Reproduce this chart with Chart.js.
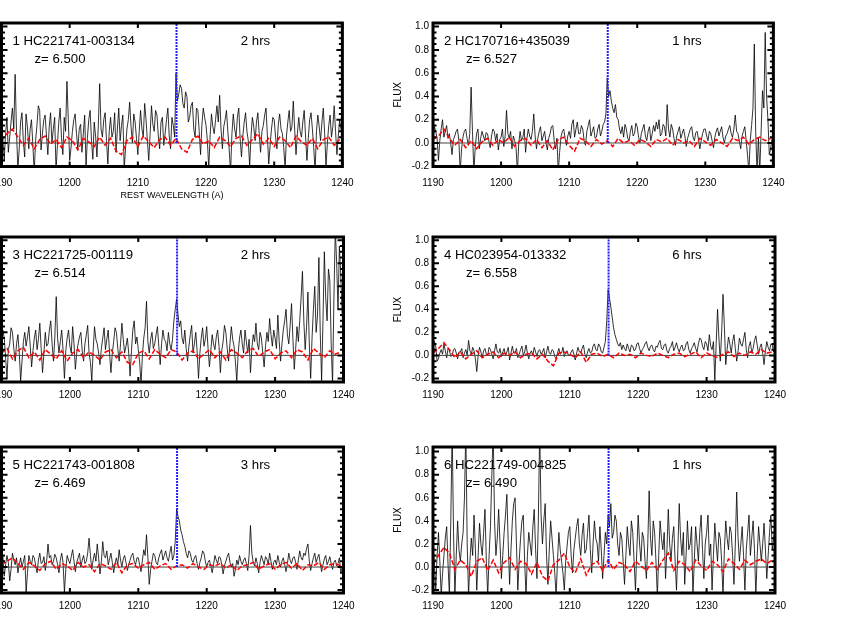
<!DOCTYPE html>
<html>
<head>
<meta charset="utf-8">
<script src="https://cdn.jsdelivr.net/npm/chart.js@4.4.1/dist/chart.umd.min.js"></script>
<style>
html, body { margin:0; padding:0; background:#fff; width:864px; height:637px; overflow:hidden; }
canvas { position:absolute; }
</style>
</head>
<body>
<script>
// wavelength grid (rest frame, Angstrom)
const waveStart = 1190
const fluxStep = 0.2
const errStep = 0.8
const lyaRest = 1215.67
const xTicks = [1190, 1200, 1210, 1220, 1230, 1240]

const names = ["1 HC221741-003134", "2 HC170716+435039", "3 HC221725-001119",
               "4 HC023954-013332", "5 HC221743-001808", "6 HC221749-004825"]
const redshifts = ["6.500", "6.527", "6.514", "6.558", "6.469", "6.490"]
const hours = [2, 1, 2, 6, 3, 1]

const flux1 = [0.10,0.04,-0.15,0.08,0.22,-0.08,0.05,0.18,0.30,0.12,0.59,0.10,-0.22,-0.05,0.18,0.26,0.02,-0.12,0.25,0.14,
  -0.05,0.12,0.20,-0.02,-0.25,0.02,0.15,0.32,0.28,-0.06,0.08,0.20,0.24,0.06,-0.10,0.14,0.26,0.00,0.12,0.22,
  -0.24,-0.02,0.18,0.30,0.05,-0.10,0.22,0.10,0.53,0.20,-0.15,-0.04,0.10,0.20,0.25,0.08,-0.05,0.12,0.16,-0.08,
  0.08,0.24,-0.20,0.04,0.20,0.28,0.02,-0.14,0.18,0.06,-0.12,0.15,0.51,0.12,0.05,0.20,0.26,0.02,-0.18,0.10,
  0.22,0.05,0.10,0.26,-0.08,0.12,0.30,0.02,0.15,0.24,-0.22,-0.04,0.12,0.20,0.35,0.14,0.00,0.25,0.18,0.04,
  -0.10,0.10,0.28,0.12,0.05,0.34,0.20,0.02,-0.15,0.08,0.32,0.16,0.10,0.28,0.24,0.06,-0.05,0.18,0.22,-0.02,
  0.08,0.20,0.30,0.06,-0.05,0.22,0.15,0.05,0.60,0.36,0.42,0.50,0.47,0.34,0.30,0.44,0.40,0.18,0.22,0.32,
  0.35,0.12,0.05,0.30,0.28,0.10,-0.10,0.16,0.30,0.22,0.15,0.02,-0.22,0.06,0.25,0.14,0.08,0.20,0.32,0.18,
  0.41,0.12,-0.05,0.14,0.20,0.28,0.10,-0.06,-0.25,0.08,0.25,0.12,0.05,0.22,0.30,0.04,-0.12,0.06,0.18,0.26,
  0.10,0.02,-0.20,0.06,0.22,0.14,0.02,0.18,0.26,0.08,-0.08,0.10,0.15,0.24,0.30,0.06,-0.18,-0.02,0.12,0.22,
  0.20,0.05,-0.05,0.16,0.25,0.12,0.08,-0.04,-0.22,0.06,0.18,0.28,0.10,0.14,0.36,0.12,-0.10,0.08,0.22,0.10,
  0.05,0.18,0.28,0.06,-0.15,0.04,0.20,0.26,0.12,-0.04,-0.25,0.10,0.24,0.14,0.02,0.18,0.30,0.08,-0.20,0.00,
  0.15,0.24,0.05,0.14,0.32,0.10,-0.10,0.06,0.20,0.12,0.08]
const flux2 = [0.02,0.14,0.10,0.04,-0.15,0.02,0.12,0.20,0.05,0.10,0.15,0.04,0.08,0.00,-0.10,0.03,0.06,0.10,0.12,0.02,
  -0.25,-0.05,0.05,0.10,0.12,0.04,-0.02,0.08,0.48,0.10,-0.25,-0.04,0.08,0.12,-0.05,0.04,0.10,0.06,0.02,0.09,
  0.08,0.02,-0.04,0.06,0.12,0.10,0.02,0.08,-0.06,0.03,0.05,0.12,-0.03,0.06,0.28,0.08,0.04,0.10,-0.05,0.06,
  0.02,-0.04,-0.25,0.00,0.10,0.02,0.05,0.12,-0.08,0.04,0.12,0.06,0.03,0.10,0.25,0.06,-0.05,0.04,0.10,0.14,
  0.02,0.06,0.10,0.00,-0.06,0.04,0.08,0.14,0.15,0.02,-0.05,0.04,-0.25,-0.08,0.05,0.10,0.12,0.04,-0.02,0.06,
  0.10,0.04,0.16,0.20,0.05,0.12,0.18,0.08,0.08,0.15,0.12,0.02,-0.02,0.10,0.15,0.20,0.06,0.10,0.14,0.04,
  0.05,0.12,0.16,0.06,0.10,0.16,0.18,0.25,0.56,0.40,0.45,0.36,0.30,0.26,0.33,0.22,0.20,0.12,0.08,0.14,
  0.05,0.16,0.12,0.04,0.02,0.10,0.15,0.06,0.08,0.17,0.14,0.05,0.00,0.08,0.12,0.16,0.06,0.02,0.10,0.14,
  0.02,0.08,0.15,0.10,0.18,0.12,0.20,0.06,0.08,0.16,0.14,0.06,0.33,0.12,0.05,0.16,0.12,0.04,-0.02,0.06,
  0.10,0.14,0.04,0.08,0.12,0.06,-0.03,0.04,0.08,0.12,0.14,0.05,0.02,0.09,0.10,0.03,-0.05,0.02,0.08,0.12,
  0.12,0.06,0.02,0.10,0.08,0.02,-0.04,0.05,0.10,0.13,0.06,0.10,0.14,0.05,0.00,0.06,0.08,0.12,0.15,0.08,
  0.05,0.12,0.24,0.10,0.08,0.02,-0.05,0.06,0.10,0.14,0.02,-0.10,-0.25,0.02,0.15,0.30,0.85,0.10,-0.25,0.05,
  -0.25,0.10,0.45,0.30,0.95,0.40,0.20,-0.10,-0.05,0.04,0.02]
const flux3 = [0.05,0.22,0.15,-0.02,-0.20,0.05,0.10,0.24,0.20,0.06,-0.05,0.10,0.18,0.02,-0.22,-0.05,0.12,0.20,0.08,0.16,
  0.25,0.08,-0.10,0.04,0.15,0.22,0.05,0.14,0.28,0.06,-0.15,0.02,0.20,0.08,0.10,0.22,0.30,0.10,-0.05,0.16,
  0.51,0.15,0.02,0.12,0.22,0.05,-0.20,0.04,0.15,0.22,0.08,0.02,0.25,0.10,-0.12,0.02,0.10,0.16,0.20,0.04,
  -0.05,0.10,0.18,0.26,0.02,-0.06,-0.22,0.04,0.25,0.14,0.10,0.02,-0.08,0.06,0.15,0.24,0.05,0.14,0.22,0.02,
  -0.15,0.02,0.12,0.24,0.20,0.06,-0.05,0.10,0.28,0.14,0.02,0.08,0.15,0.02,-0.18,0.04,0.22,0.30,0.10,0.16,
  0.05,-0.06,-0.25,0.00,0.15,0.24,0.47,0.12,0.02,0.14,0.20,0.06,0.10,0.18,0.25,0.08,-0.08,0.10,0.22,0.14,
  0.12,0.04,0.20,0.10,0.05,0.14,0.30,0.40,0.49,0.36,0.25,0.30,0.15,0.10,0.22,0.06,-0.05,0.08,0.18,0.26,
  0.02,0.10,0.20,0.04,-0.20,0.02,0.15,0.24,0.08,0.14,0.25,0.06,-0.10,0.04,0.18,0.10,0.05,0.16,0.22,0.08,
  -0.15,0.04,0.12,0.26,0.20,0.06,-0.05,0.10,0.25,0.14,0.08,-0.06,-0.22,0.02,0.15,0.22,0.10,0.02,0.22,0.12,
  0.02,0.14,-0.15,0.06,0.18,0.12,0.28,0.10,0.05,0.20,0.15,0.02,-0.10,0.08,0.20,0.12,0.32,0.18,0.08,0.22,
  0.15,0.06,0.35,0.12,-0.05,0.10,0.22,0.30,0.40,0.18,0.10,0.26,0.45,0.15,-0.12,0.05,0.25,0.12,0.30,0.50,
  0.73,0.30,0.05,0.25,0.55,0.10,-0.20,0.15,0.40,0.60,0.20,0.35,0.85,0.20,-0.22,0.30,0.90,0.50,0.30,0.75,
  0.65,0.10,-0.25,0.50,1.10,0.80,0.40,0.95,0.70,0.35,0.20]
const flux4 = [0.02,0.12,0.08,-0.05,-0.03,0.02,0.05,0.01,0.10,0.04,-0.02,0.06,0.04,-0.01,0.00,0.05,0.06,0.02,-0.03,0.03,
  0.03,0.06,-0.02,0.02,0.05,0.00,0.13,0.04,0.01,0.07,0.04,-0.03,-0.14,0.00,0.07,0.03,-0.02,0.04,0.06,0.01,
  0.00,0.07,0.05,0.01,-0.03,0.04,0.10,0.03,0.02,0.06,-0.01,0.03,0.06,0.00,0.03,0.07,-0.04,0.02,0.08,0.02,
  0.02,0.06,-0.02,0.01,0.05,0.08,0.00,0.03,0.09,0.02,-0.03,0.02,0.04,0.00,0.07,0.03,-0.01,0.04,0.05,0.01,
  0.03,0.06,-0.02,0.03,0.08,0.02,0.01,0.05,0.04,-0.01,-0.03,0.02,0.06,0.01,0.02,0.07,-0.01,0.03,0.04,0.00,
  0.00,0.03,0.05,0.01,-0.04,0.02,0.07,0.03,0.02,0.06,0.09,0.01,-0.02,0.03,0.06,0.02,0.03,0.08,0.10,0.05,
  0.04,0.10,0.08,0.03,0.02,0.07,0.12,0.30,0.57,0.50,0.42,0.33,0.24,0.18,0.14,0.10,0.08,0.11,0.05,0.09,
  0.06,0.04,0.10,0.06,0.03,0.09,0.08,0.04,0.05,0.10,0.11,0.06,0.02,0.05,0.07,0.10,0.12,0.07,0.04,0.08,
  0.09,0.05,0.03,0.08,0.07,0.11,0.13,0.06,0.05,0.09,0.10,0.04,0.02,0.06,0.08,0.12,0.04,0.07,0.11,0.06,
  0.03,0.07,0.09,0.04,0.05,0.10,0.12,0.05,0.02,0.06,0.08,0.11,0.06,0.03,0.10,0.15,0.14,0.08,0.05,0.12,
  0.10,0.04,0.18,0.08,0.05,0.12,-0.22,0.10,0.40,0.15,-0.05,0.20,0.53,0.25,-0.08,0.05,0.16,0.10,0.02,0.12,
  0.18,0.06,-0.05,0.04,0.15,0.10,0.08,0.14,0.20,0.05,-0.02,0.08,0.12,0.02,0.06,0.13,0.17,0.09,0.01,0.07,
  0.10,0.02,-0.08,0.04,0.12,0.07,0.04,0.10,0.09,0.03,0.06]
const flux5 = [0.05,0.10,-0.08,0.02,0.10,0.04,-0.12,-0.02,0.12,0.06,0.02,0.08,-0.05,0.02,0.08,0.00,0.05,0.10,-0.22,-0.05,
  0.10,0.05,0.02,0.10,0.08,0.01,-0.05,0.06,0.12,0.03,0.04,0.09,-0.03,0.05,0.20,0.08,0.10,0.02,0.05,0.11,
  0.08,0.02,-0.05,0.06,0.12,0.04,-0.22,-0.02,0.10,0.06,0.03,0.09,0.15,0.05,-0.04,0.04,0.08,0.12,0.00,0.06,
  0.10,0.03,0.05,0.12,0.25,0.10,-0.02,0.06,0.12,0.05,0.20,0.08,-0.06,0.05,0.22,0.10,0.08,0.14,0.02,0.07,
  0.12,0.04,-0.05,0.03,0.08,0.02,0.15,0.06,0.00,0.07,0.10,0.04,-0.03,0.02,0.06,0.10,0.12,0.05,0.02,0.08,
  0.08,0.02,-0.04,0.06,0.15,0.10,0.28,0.08,-0.15,-0.02,0.05,0.12,0.10,0.04,0.02,0.08,0.12,0.15,0.06,0.10,
  0.14,0.08,0.05,0.12,0.18,0.06,0.10,0.22,0.50,0.44,0.40,0.32,0.28,0.22,0.18,0.12,0.08,0.14,0.12,0.06,
  0.04,0.08,0.10,0.03,-0.02,0.04,0.08,0.14,0.12,0.05,0.00,0.04,0.06,0.01,-0.05,0.02,0.10,0.06,0.03,0.09,
  0.08,0.02,-0.06,0.01,0.05,0.09,0.12,0.04,0.00,0.03,-0.08,-0.02,0.06,0.02,0.10,0.05,0.02,0.06,0.08,0.03,
  -0.03,0.10,0.36,0.12,0.04,0.01,0.08,0.03,-0.05,0.04,0.10,0.06,0.02,0.09,0.07,0.02,0.12,0.05,-0.02,0.04,
  0.06,0.02,0.10,0.04,0.00,0.05,0.08,0.02,-0.04,0.03,0.12,0.06,0.03,0.08,0.09,0.04,-0.02,0.06,0.14,0.08,
  0.06,0.12,0.10,0.16,0.20,0.05,-0.03,0.03,0.08,0.12,0.04,0.08,0.11,0.03,-0.04,0.02,0.07,0.10,0.02,0.05,
  0.09,0.03,-0.02,0.04,0.06,0.01,0.03,0.08,-0.05,0.00,0.04]
const flux6 = [0.15,0.05,-0.20,0.10,0.30,0.05,-0.25,-0.05,0.10,0.25,0.35,0.02,-0.25,0.40,1.20,0.30,-0.25,0.10,0.40,0.15,
  0.05,0.20,0.30,0.60,1.20,0.20,-0.25,0.05,0.25,0.10,0.45,0.15,-0.20,0.10,0.38,0.20,0.10,0.30,0.50,0.05,
  -0.25,0.10,0.35,0.80,1.20,0.40,0.10,0.25,0.50,0.20,-0.10,0.10,0.30,0.45,0.63,0.20,-0.15,0.15,0.40,0.55,
  0.60,0.20,-0.20,0.05,0.25,0.40,0.45,0.05,-0.25,0.10,0.30,0.20,0.10,0.35,0.50,0.15,-0.10,0.40,1.20,0.45,
  0.20,0.40,0.55,0.10,-0.15,0.15,0.40,0.25,0.10,-0.05,-0.25,0.05,0.30,0.15,0.05,-0.05,-0.20,0.05,0.18,0.30,
  0.35,0.10,-0.05,0.15,0.25,0.35,0.42,0.20,0.10,0.28,0.38,0.12,0.15,0.30,0.45,0.15,-0.05,0.20,0.40,0.25,
  0.20,0.05,0.35,0.15,-0.10,0.10,0.30,0.20,0.45,0.35,0.55,0.25,0.30,0.45,0.40,0.20,0.10,0.30,0.25,0.05,
  -0.15,0.10,0.35,0.20,0.10,0.40,0.30,0.05,-0.20,0.15,0.45,0.20,0.05,0.30,0.25,0.05,-0.10,0.20,0.66,0.25,
  0.10,0.40,0.30,0.05,-0.25,0.10,0.40,0.25,0.15,0.30,-0.10,0.15,0.50,0.20,0.05,0.25,0.35,0.05,-0.20,0.15,
  0.55,0.25,0.10,0.30,-0.15,0.10,0.40,0.15,0.20,0.35,-0.25,0.05,0.35,0.20,0.05,0.30,0.45,0.15,-0.10,0.20,
  0.30,0.45,0.10,0.20,-0.20,0.10,0.38,0.20,0.05,0.30,0.25,0.05,-0.25,0.15,0.40,0.25,0.15,0.35,0.30,0.10,
  -0.15,0.20,0.65,0.25,0.05,0.20,0.35,0.10,-0.20,0.15,0.30,0.45,0.10,0.25,0.40,0.15,-0.25,0.10,0.35,0.20,
  0.05,0.20,0.38,0.15,-0.10,0.10,0.30,0.45,0.15,0.25,0.35]

// red dashed (noise) spectra
const err1 = [0.02,0.08,0.12,0.05,-0.02,0.04,-0.05,0.03,0.06,-0.01,
  0.03,-0.04,0.05,0.02,-0.06,0.04,0.01,-0.03,0.05,-0.02,
  0.04,-0.07,-0.10,0.02,0.05,-0.03,0.06,0.01,-0.04,0.03,
  0.05,-0.02,0.04,-0.05,-0.08,0.03,0.06,-0.01,0.02,-0.04,
  0.05,0.02,-0.03,0.04,0.06,-0.02,0.03,0.08,-0.01,0.04,
  -0.03,0.05,0.02,-0.04,0.06,0.01,-0.02,0.04,-0.05,0.03,
  0.05,-0.02,0.03]
const err2 = [0.03,0.06,0.12,0.04,-0.02,0.03,-0.04,0.02,-0.05,0.01,
  0.04,-0.02,0.03,0.00,0.05,-0.03,0.02,0.04,-0.02,0.03,
  -0.04,0.02,-0.06,0.03,0.05,-0.02,-0.07,0.04,0.02,-0.03,
  0.03,-0.01,0.02,-0.03,0.04,0.00,0.02,-0.02,0.03,0.01,
  -0.03,0.03,0.01,0.04,-0.02,0.03,0.00,0.02,-0.03,0.04,
  0.01,-0.02,0.03,0.00,-0.03,0.04,0.02,0.05,-0.01,0.03,
  0.05,0.02,0.04]
const err3 = [0.02,0.06,-0.03,0.04,0.07,-0.02,0.03,-0.04,0.05,0.01,
  -0.03,0.04,-0.05,0.02,0.05,-0.02,0.03,0.00,-0.04,0.03,
  0.05,-0.02,0.03,-0.06,-0.08,0.02,0.04,-0.03,0.05,0.01,
  -0.02,0.05,0.03,-0.04,0.02,0.04,-0.03,0.01,0.05,-0.02,
  0.03,-0.04,0.05,0.02,-0.02,0.04,0.06,-0.01,0.03,0.05,
  -0.03,0.02,0.04,-0.02,0.05,0.03,-0.04,0.06,0.02,-0.02,
  0.04,0.01,0.03]
const err4 = [0.02,0.06,0.11,0.05,-0.02,0.03,-0.03,0.01,0.04,-0.02,
  0.01,0.03,-0.02,0.02,0.00,0.03,-0.02,0.01,0.02,-0.03,
  0.01,-0.05,-0.09,0.02,0.03,0.01,-0.02,0.03,-0.06,0.01,
  0.02,-0.01,0.01,-0.02,0.02,0.00,0.01,-0.02,0.02,0.00,
  -0.01,0.02,0.00,-0.02,0.01,0.02,-0.01,0.01,0.03,-0.02,
  0.02,0.00,-0.02,0.01,0.03,-0.01,0.02,0.00,0.03,0.01,
  0.05,0.02,0.03]
const err5 = [0.02,0.05,0.08,0.03,-0.02,0.04,0.01,-0.03,0.03,0.05,
  -0.02,0.03,0.01,-0.03,0.04,0.00,0.02,-0.04,0.03,0.01,
  -0.02,0.04,-0.05,0.02,0.03,-0.01,0.02,0.04,-0.02,0.01,
  0.03,-0.02,0.01,0.02,-0.01,0.03,0.00,-0.02,0.02,0.01,
  0.03,-0.01,0.02,-0.03,0.01,0.02,0.04,-0.02,0.01,0.03,
  -0.02,0.02,0.04,-0.01,0.03,-0.03,0.02,0.01,0.04,-0.02,
  0.02,0.03,0.01]
const err6 = [0.03,0.10,0.17,0.12,-0.02,0.06,0.02,-0.08,0.05,0.08,
  -0.03,0.06,-0.05,0.04,0.08,-0.02,0.05,0.03,-0.06,0.04,
  -0.08,-0.12,0.02,0.06,0.12,0.00,-0.05,0.07,-0.07,0.02,
  0.05,-0.03,0.06,-0.02,0.04,0.02,-0.04,0.05,0.01,-0.03,
  0.04,-0.02,0.06,0.12,-0.03,0.05,0.02,-0.04,0.06,0.01,
  -0.03,0.05,0.02,-0.04,0.07,0.03,-0.02,0.06,0.02,0.05,
  0.07,0.03,0.06]

const fluxes = [flux1, flux2, flux3, flux4, flux5, flux6]
const errs = [err1, err2, err3, err4, err5, err6]

// page layout of the plot frames (pixels)
const cols = [{left:1.5, right:343.5}, {left:433, right:775}]
const rows = [
  {top:21.3, bottom:166.5, labelY:183, min:-0.202, max:1.031},
  {top:235, bottom:382, labelY:395, min:-0.231, max:1.028},
  {top:445.3, bottom:593, labelY:606.7, min:-0.225, max:1.04}
]

Chart.defaults.font.family = "'Liberation Sans', Arial, Helvetica, sans-serif"
Chart.defaults.color = "#000"

function toPoints(values, step){
    return values.map(function(v, i){ return {x: waveStart + i*step, y: v} })
}

const panelDecor = {
    id: "panelDecor",
    beforeDatasetsDraw(chart, args, opts){
        const ctx = chart.ctx
        const a = chart.chartArea
        ctx.save()
        ctx.fillStyle = "#000"
        ctx.font = "13.2px 'Liberation Sans', Arial, sans-serif"
        ctx.textBaseline = "alphabetic"
        ctx.textAlign = "left"
        ctx.fillText(opts.name, a.left + 11, a.top + 22)
        ctx.fillText("z= " + opts.z, a.left + 33, a.top + 40)
        ctx.textAlign = "center"
        ctx.fillText(opts.hrs + " hrs", a.left + 254, a.top + 22)
        ctx.restore()
    },
    afterDraw(chart){
        const ctx = chart.ctx
        const a = chart.chartArea
        const x = chart.scales.x
        const y = chart.scales.y
        ctx.save()
        ctx.strokeStyle = "#000"
        ctx.lineWidth = 3
        ctx.strokeRect(a.left, a.top, a.right - a.left, a.bottom - a.top)
        ctx.lineWidth = 2
        ctx.beginPath()
        xTicks.forEach(function(v){
            const px = x.getPixelForValue(v)
            ctx.moveTo(px, a.bottom); ctx.lineTo(px, a.bottom - 5)
            ctx.moveTo(px, a.top); ctx.lineTo(px, a.top + 5)
        })
        for(let k = -4; k <= 20; k++){
            const v = k * 0.05
            if(v < y.min || v > y.max) continue
            const len = (k % 4 === 0) ? 6 : 3.5
            const py = y.getPixelForValue(v)
            ctx.moveTo(a.left, py); ctx.lineTo(a.left + len, py)
            ctx.moveTo(a.right, py); ctx.lineTo(a.right - len, py)
        }
        ctx.stroke()
        ctx.restore()
    }
}

function makePanel(k){
    const row = rows[Math.floor(k/2)]
    const col = cols[k % 2]
    const canvasLeft = Math.floor(col.left) - 53
    const canvasTop = Math.floor(row.top) - 8
    const yW = col.left - canvasLeft
    const padTop = row.top - canvasTop
    const plotW = col.right - col.left
    const plotH = row.bottom - row.top
    const width = Math.ceil(yW + plotW + 20)
    const height = Math.ceil(padTop + plotH + 44)
    const padRight = width - yW - plotW
    const xH = height - padTop - plotH

    const canvas = document.createElement("canvas")
    canvas.width = width
    canvas.height = height
    canvas.style.left = canvasLeft + "px"
    canvas.style.top = canvasTop + "px"
    canvas.style.width = width + "px"
    canvas.style.height = height + "px"
    document.body.appendChild(canvas)

    const showXTitle = (k === 0)
    const showYTitle = (k % 2 === 1)

    new Chart(canvas, {
        type: "line",
        data: {
            datasets: [
                {
                    data: [{x: lyaRest, y: 0}, {x: lyaRest, y: row.max + 0.1}],
                    borderColor: "#1f1fff",
                    borderWidth: 2,
                    borderDash: [2, 1],
                    pointRadius: 0,
                    order: 0
                },
                {
                    data: toPoints(errs[k], errStep),
                    borderColor: "#ff0000",
                    borderWidth: 1.5,
                    borderDash: [5, 2],
                    pointRadius: 0,
                    order: 1
                },
                {
                    data: [{x: xTicks[0], y: 0}, {x: xTicks[xTicks.length-1], y: 0}],
                    borderColor: "#444",
                    borderWidth: 1,
                    pointRadius: 0,
                    order: 2
                },
                {
                    data: toPoints(fluxes[k], fluxStep),
                    borderColor: "rgba(0,0,0,0.8)",
                    borderWidth: 1,
                    pointRadius: 0,
                    order: 3
                }
            ]
        },
        options: {
            responsive: false,
            animation: false,
            events: [],
            devicePixelRatio: 1,
            layout: { padding: { top: padTop, right: padRight, left: 0, bottom: 0 } },
            plugins: {
                legend: { display: false },
                tooltip: { enabled: false },
                panelDecor: { name: names[k], z: redshifts[k], hrs: hours[k] }
            },
            scales: {
                x: {
                    type: "linear",
                    min: 1190,
                    max: 1240,
                    grid: { display: false, drawTicks: false },
                    border: { display: false },
                    ticks: {
                        stepSize: 10,
                        autoSkip: false,
                        maxRotation: 0,
                        padding: row.labelY - row.bottom - 6,
                        font: { size: 10 },
                        callback: function(v){ return String(v) }
                    },
                    title: {
                        display: showXTitle,
                        text: "REST WAVELENGTH (A)",
                        font: { size: 9 },
                        padding: { top: 0, bottom: (row.bottom + xH) - 196 - 5.4 }
                    },
                    afterFit: function(scale){ scale.height = xH }
                },
                y: {
                    type: "linear",
                    min: row.min,
                    max: row.max,
                    grid: { display: false, drawTicks: false },
                    border: { display: false },
                    ticks: {
                        stepSize: 0.2,
                        includeBounds: false,
                        padding: 4,
                        font: { size: 10 },
                        callback: function(v){ return Number(v).toFixed(1) }
                    },
                    title: {
                        display: showYTitle,
                        text: "FLUX",
                        font: { size: 10 },
                        padding: { top: 12.5, bottom: 0 }
                    },
                    afterFit: function(scale){ scale.width = yW }
                }
            }
        },
        plugins: [panelDecor]
    })
}

for(let k = 0; k < 6; k++){
    makePanel(k)
}
</script>
</body>
</html>
